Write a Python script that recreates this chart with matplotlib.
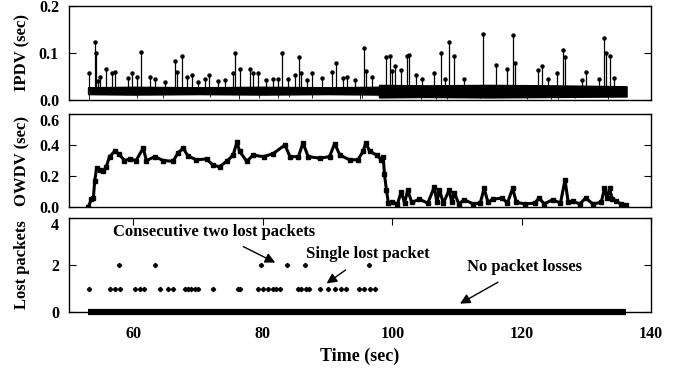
import matplotlib
matplotlib.use("Agg")
import matplotlib.pyplot as plt
import matplotlib.transforms as mtransforms

# ---- IPDV panel ----
ipdv_band_t = [53.0, 60.0, 70.0, 80.0, 90.0, 97.9, 98.0, 105.0, 115.0, 125.0, 136.2]
ipdv_band_lo = [0.013, 0.012, 0.013, 0.012, 0.013, 0.012, 0.006, 0.007, 0.006, 0.007, 0.008]
ipdv_band_hi = [0.027, 0.028, 0.027, 0.028, 0.027, 0.028, 0.032, 0.031, 0.032, 0.031, 0.029]
ipdv_spike_t = [53.1, 54.0, 54.2, 54.5, 54.9, 55.7, 56.7, 57.2, 59.1, 59.8, 60.5, 61.1,
                62.6, 63.4, 64.9, 66.4, 66.7, 67.5, 68.2, 69.0, 70.0, 71.0, 71.7, 73.1,
                74.1, 75.4, 75.7, 76.5, 78.0, 78.5, 79.3, 80.5, 81.6, 82.4, 82.9, 83.9,
                84.9, 85.6, 85.9, 86.8, 87.6, 89.1, 90.7, 91.3, 92.4, 93.0, 94.3, 95.6,
                96.0, 96.8, 99.0, 99.6, 99.9, 100.4, 101.4, 102.3, 102.6, 103.6, 104.6,
                106.5, 107.5, 108.1, 108.8, 109.5, 111.1, 114.1, 116.0, 117.8, 118.7,
                119.0, 122.6, 123.2, 124.0, 125.4, 126.4, 126.7, 129.4, 130.0, 132.0,
                132.8, 133.0, 133.7, 134.2]
ipdv_spike_v = [0.058, 0.124, 0.099, 0.040, 0.050, 0.067, 0.058, 0.060, 0.046, 0.058, 0.050, 0.103,
                0.048, 0.044, 0.039, 0.082, 0.060, 0.094, 0.048, 0.053, 0.039, 0.044, 0.053, 0.040,
                0.042, 0.058, 0.100, 0.067, 0.067, 0.058, 0.058, 0.042, 0.044, 0.044, 0.100, 0.044,
                0.053, 0.091, 0.058, 0.042, 0.058, 0.046, 0.060, 0.078, 0.046, 0.050, 0.042, 0.110,
                0.062, 0.050, 0.091, 0.094, 0.062, 0.072, 0.064, 0.094, 0.096, 0.053, 0.044,
                0.058, 0.100, 0.044, 0.124, 0.094, 0.044, 0.140, 0.074, 0.065, 0.138,
                0.078, 0.064, 0.072, 0.044, 0.058, 0.106, 0.091, 0.042, 0.060, 0.044,
                0.131, 0.100, 0.094, 0.046]
ipdv_dip_t = [53.1, 60.6, 64.5, 71.8, 76.3, 79.4, 82.4, 84.0, 87.6, 95.0, 95.4,
              104.5, 106.8, 108.4, 113.6, 120.8, 124.5, 125.6, 128.3, 133.4]
ipdv_dip_v = [0.000, 0.004, 0.005, 0.006, 0.003, 0.004, 0.005, 0.006, 0.004, 0.003, 0.004,
              0.002, 0.003, 0.002, 0.004, 0.003, 0.002, 0.003, 0.004, 0.002]

# ---- OWDV panel ----
owdv_t = [53.0, 53.5, 53.8, 54.0, 54.3, 54.8, 55.3, 55.8, 56.3, 57.1, 57.8, 58.6, 59.4,
          60.4, 61.5, 62.0, 63.3, 64.6, 66.1, 66.9, 67.7, 68.4, 69.7, 71.3, 72.3, 73.3,
          74.4, 75.4, 76.0, 76.4, 77.5, 78.5, 80.1, 81.6, 83.4, 84.2, 85.5, 86.2, 87.0,
          88.8, 90.3, 91.1, 91.9, 93.4, 94.7, 95.5, 95.9, 96.5, 97.6, 98.3, 98.6, 98.8,
          99.1, 99.4, 100.0, 100.8, 101.4, 101.9, 102.4, 103.0, 104.2, 105.5, 106.5,
          106.9, 107.3, 107.9, 108.8, 109.2, 109.6, 110.3, 111.1, 112.5, 113.6, 114.2,
          114.8, 115.5, 117.0, 117.8, 118.6, 119.2, 120.5, 122.0, 122.7, 123.5, 124.8,
          126.0, 126.7, 127.2, 127.9, 129.0, 129.9, 131.0, 132.3, 132.8, 133.2, 133.6,
          134.0, 134.6, 135.4, 136.2]
owdv_v = [0.000, 0.050, 0.058, 0.165, 0.250, 0.240, 0.230, 0.260, 0.325, 0.360, 0.340, 0.300, 0.310,
          0.300, 0.380, 0.300, 0.325, 0.300, 0.295, 0.350, 0.380, 0.330, 0.305, 0.310, 0.270, 0.260,
          0.295, 0.335, 0.420, 0.360, 0.295, 0.335, 0.325, 0.345, 0.400, 0.325, 0.325, 0.415, 0.325,
          0.315, 0.325, 0.410, 0.335, 0.305, 0.305, 0.360, 0.415, 0.360, 0.335, 0.305, 0.325, 0.210,
          0.110, 0.025, 0.030, 0.020, 0.100, 0.025, 0.110, 0.030, 0.050, 0.025, 0.130,
          0.030, 0.110, 0.025, 0.110, 0.030, 0.090, 0.020, 0.047, 0.020, 0.025, 0.120,
          0.030, 0.050, 0.058, 0.025, 0.120, 0.030, 0.020, 0.025, 0.058, 0.020, 0.047,
          0.025, 0.175, 0.030, 0.036, 0.020, 0.058, 0.020, 0.030, 0.120, 0.060, 0.120,
          0.050, 0.036, 0.020, 0.015]

# ---- Lost packets panel ----
lost1_t = [53.1, 56.3, 57.1, 57.9, 60.2, 61.0, 61.7, 64.1, 65.3, 66.1, 67.9, 68.4, 68.9,
           69.5, 70.0, 72.3, 76.2, 76.4, 79.2, 80.0, 80.8, 81.6, 82.1, 82.6, 85.4, 85.9,
           86.7, 87.2, 88.8, 90.0, 91.1, 92.1, 92.9, 94.9, 95.7, 96.5, 97.3]
lost2_t = [57.7, 63.4, 79.7, 83.7, 86.5, 96.4]
zero_span = [53.0, 136.2]

fig = plt.figure(figsize=(6.81, 3.68), dpi=100)
ax1 = fig.add_axes([0.101, 0.728, 0.855, 0.256])
ax2 = fig.add_axes([0.101, 0.4375, 0.855, 0.2525])
ax3 = fig.add_axes([0.101, 0.152, 0.855, 0.2556])

font = {"family": "Liberation Serif", "weight": "bold", "size": 12}

ax1.fill_between(ipdv_band_t, ipdv_band_lo, ipdv_band_hi, color="black", lw=1.2)
ax1.vlines(ipdv_spike_t, 0.02, ipdv_spike_v, color="black", lw=0.9)
ax1.plot(ipdv_spike_t, ipdv_spike_v, "o", color="black", ms=2.2)
ax1.vlines(ipdv_dip_t, ipdv_dip_v, 0.012, color="black", lw=0.6)
ax1.set_ylim(0, 0.2)
ax1.set_yticks([0.0, 0.1, 0.2])
ax1.set_yticklabels(["0.0", "0.1", "0.2"])
ax1.set_ylabel("IPDV (sec)", fontdict=font)

ax2.plot(owdv_t, owdv_v, "-s", color="black", lw=2.2, ms=2.5)
ax2.set_ylim(0, 0.6)
ax2.set_yticks([0.0, 0.2, 0.4, 0.6])
ax2.set_yticklabels(["0.0", "0.2", "0.4", "0.6"])
ax2.set_ylabel("OWDV (sec)", fontdict=font)

ax3.plot(lost1_t, [1] * len(lost1_t), "D", color="black", ms=2.2)
ax3.plot(lost2_t, [2] * len(lost2_t), "D", color="black", ms=2.2)
ax3.plot(zero_span, [0, 0], color="black", lw=4.5, solid_capstyle="butt", clip_on=False)
ax3.set_ylim(0, 4)
ax3.set_yticks([0, 2, 4])
ax3.set_ylabel("Lost packets", fontdict=font)
ax3.set_xlabel("Time (sec)", family="Liberation Serif", weight="bold", fontsize=13, labelpad=4)
ax3.set_xticks([60, 80, 100, 120, 140])

arrow = dict(arrowstyle="-|>", color="black", lw=1.0, mutation_scale=15, shrinkA=6)
for txt, tip, pos in [("Consecutive two lost packets", (82.3, 2.05), (72.5, 3.4)),
                      ("Single lost packet", (89.5, 1.15), (96.2, 2.45)),
                      ("No packet losses", (110.1, 0.3), (120.4, 1.9))]:
    ax3.annotate(txt, xy=tip, xytext=pos, ha="center", va="center",
                 family="Liberation Serif", weight="bold", fontsize=12,
                 arrowprops=arrow)

for ax in (ax1, ax2, ax3):
    ax.set_xlim(50, 140)
    ax.tick_params(direction="in", left=True, right=True, length=5, width=0.8, pad=7)
    for lab in ax.get_yticklabels():
        lab.set_fontfamily("Liberation Serif")
        lab.set_fontweight("bold")
        lab.set_fontsize(11.5)
    ax.yaxis.set_label_coords(-0.066, 0.5)
    for s in ax.spines.values():
        s.set_linewidth(1.0)

# nudge the top tick label of the lower panels down, as in the reference
shift = mtransforms.ScaledTranslation(0, -4 / 72, fig.dpi_scale_trans)
for ax in (ax2, ax3):
    top = ax.get_yticklabels()[-1]
    top.set_transform(top.get_transform() + shift)

for ax in (ax1, ax2):
    ax.tick_params(axis="x", bottom=False, labelbottom=False)

ax3.tick_params(axis="x", top=True, bottom=False, pad=10)
for lab in ax3.get_xticklabels():
    lab.set_fontfamily("Liberation Serif")
    lab.set_fontweight("bold")
    lab.set_fontsize(11.5)

fig.savefig("out.png", dpi=100)
